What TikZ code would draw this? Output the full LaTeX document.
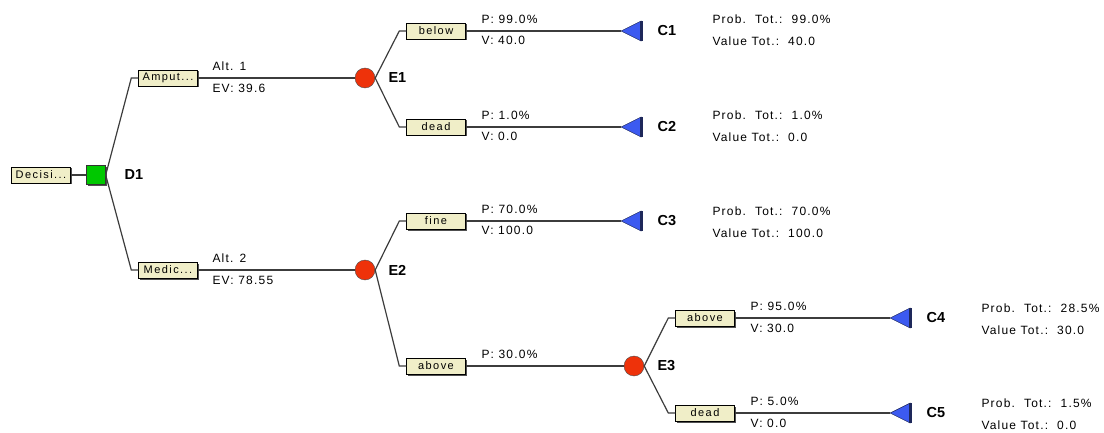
\documentclass[tikz,border=0pt]{standalone}
\usepackage{fontspec}
\setmainfont{Liberation Sans}
\newfontfamily\boxfont[LetterSpace=13]{Liberation Sans}
\newfontfamily\infofont[LetterSpace=10]{Liberation Sans}
\usetikzlibrary{calc,positioning,shapes.geometric,shadows}
\definecolor{BoxYellow}{RGB}{240,238,200}
\definecolor{TreeGray}{RGB}{60,60,60}
\definecolor{ShadowGray}{RGB}{80,80,80}
\definecolor{DecGreen}{RGB}{0,200,0}
\definecolor{ChanceRed}{RGB}{238,50,10}
\definecolor{EndBlue}{RGB}{60,90,240}
\definecolor{EdgeBlue}{RGB}{30,40,90}

\begin{document}
\begin{tikzpicture}[x=1pt,y=-1pt,
    tree/.style={TreeGray,line width=1.2pt},
    boxshadow/.style={drop shadow={shadow xshift=1.5pt,shadow yshift=-1.5pt,fill=ShadowGray,opacity=1}},
    tag/.style={draw=black,fill=BoxYellow,boxshadow,minimum width=59pt,minimum height=16pt,inner sep=1pt,
      font=\boxfont\fontsize{11}{12}\selectfont},
    decnode/.style={draw=black!80,fill=DecGreen,boxshadow,minimum size=19pt,inner sep=0pt},
    chance/.style={circle,draw=black!70,fill=ChanceRed,minimum size=20pt,inner sep=0pt},
    endnode/.style={isosceles triangle,isosceles triangle stretches,shape border rotate=180,
      fill=EndBlue,draw=EdgeBlue,line width=0.5pt,minimum width=20pt,minimum height=20pt,inner sep=0pt},
    idlabel/.style={anchor=west,font=\bfseries\fontsize{14.5}{16}\selectfont},
    branchtxt/.style={anchor=base west,font=\infofont\fontsize{12}{14}\selectfont},
    tot/.style={anchor=base west,font=\infofont\fontsize{12}{14}\selectfont}]
  \useasboundingbox (0,0) rectangle (1104,433);

  % nodes of the tree
  \node[tag] (dec) at (41,175) {Decisi...};
  \node[decnode] (d1) at (96,175) {};
  \node[idlabel] at (121,175) {D1};

  \node[tag] (amp) at (168,78) {Amput...};
  \node[tag] (med) at (168,270) {Medic...};
  \node[chance] (e1) at (365,78) {};
  \node[chance] (e2) at (365,270) {};
  \node[idlabel] at (385,78) {E1};
  \node[idlabel] at (385,270) {E2};

  \node[tag] (below) at (436,31) {below};
  \node[tag] (dead) at (436,127) {dead};
  \node[tag] (fine) at (436,221) {fine};
  \node[tag] (above) at (436,366) {above};
  \node[chance] (e3) at (634,366) {};
  \node[idlabel] at (654,366) {E3};

  \node[tag] (abovet) at (705,318) {above};
  \node[tag] (deadt) at (705,413) {dead};

  \node[endnode] (c1) at (635,31) {};
  \node[endnode] (c2) at (635,127) {};
  \node[endnode] (c3) at (635,221) {};
  \node[endnode] (c4) at (904,318) {};
  \node[endnode] (c5) at (904,413) {};
  \foreach \c in {c1,c2,c3,c4,c5}
    \draw[line width=2.5pt,EdgeBlue] (\c.left corner) -- (\c.right corner);
  \node[idlabel] at (654,31) {C1};
  \node[idlabel] at (654,127) {C2};
  \node[idlabel] at (654,221) {C3};
  \node[idlabel] at (923,318) {C4};
  \node[idlabel] at (923,413) {C5};

  % branches
  \draw[tree] (dec) -- (d1);
  \draw[tree] (d1.east) -- ($(amp.west)+(-7,0)$) -- (amp.west);
  \draw[tree] (d1.east) -- ($(med.west)+(-7,0)$) -- (med.west);
  \draw[tree] (amp) -- (e1);
  \draw[tree] (med) -- (e2);
  \draw[tree] (e1.east) -- ($(below.west)+(-7,0)$) -- (below.west);
  \draw[tree] (e1.east) -- ($(dead.west)+(-7,0)$) -- (dead.west);
  \draw[tree] (e2.east) -- ($(fine.west)+(-7,0)$) -- (fine.west);
  \draw[tree] (e2.east) -- ($(above.west)+(-7,0)$) -- (above.west);
  \draw[tree] (above) -- (e3);
  \draw[tree] (e3.east) -- ($(abovet.west)+(-7,0)$) -- (abovet.west);
  \draw[tree] (e3.east) -- ($(deadt.west)+(-7,0)$) -- (deadt.west);
  \draw[tree] (below) -- (c1);
  \draw[tree] (dead) -- (c2);
  \draw[tree] (fine) -- (c3);
  \draw[tree] (abovet) -- (c4);
  \draw[tree] (deadt) -- (c5);

  % branch texts
  \node[branchtxt] at (209,70.5) {Alt. 1};
  \node[branchtxt] at (209,92.5) {EV: 39.6};
  \node[branchtxt] at (209,262.5) {Alt. 2};
  \node[branchtxt] at (209,284.5) {EV: 78.55};
  \node[branchtxt] at (478,23.5) {P: 99.0\%};
  \node[branchtxt] at (478,45) {V: 40.0};
  \node[branchtxt] at (478,119.5) {P: 1.0\%};
  \node[branchtxt] at (478,141) {V: 0.0};
  \node[branchtxt] at (478,213.5) {P: 70.0\%};
  \node[branchtxt] at (478,235) {V: 100.0};
  \node[branchtxt] at (478,358.5) {P: 30.0\%};
  \node[branchtxt] at (747,310.5) {P: 95.0\%};
  \node[branchtxt] at (747,332) {V: 30.0};
  \node[branchtxt] at (747,405.5) {P: 5.0\%};
  \node[branchtxt] at (747,427) {V: 0.0};

  % totals
  \node[tot] at (709,24) {Prob.\ \ Tot.:\ \ 99.0\%};
  \node[tot] at (709,46) {Value Tot.:\ \ 40.0};
  \node[tot] at (709,120) {Prob.\ \ Tot.:\ \ 1.0\%};
  \node[tot] at (709,142) {Value Tot.:\ \ 0.0};
  \node[tot] at (709,215) {Prob.\ \ Tot.:\ \ 70.0\%};
  \node[tot] at (709,237) {Value Tot.:\ \ 100.0};
  \node[tot] at (978,312) {Prob.\ \ Tot.:\ \ 28.5\%};
  \node[tot] at (978,334) {Value Tot.:\ \ 30.0};
  \node[tot] at (978,407) {Prob.\ \ Tot.:\ \ 1.5\%};
  \node[tot] at (978,429) {Value Tot.:\ \ 0.0};
\end{tikzpicture}
\end{document}
